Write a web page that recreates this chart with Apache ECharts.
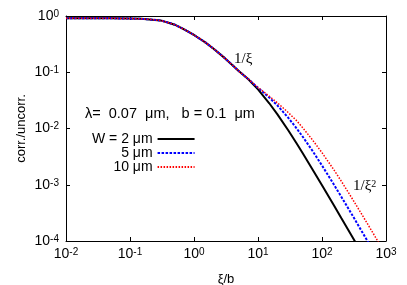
<!DOCTYPE html>
<html>
<head>
<meta charset="utf-8">
<script src="https://cdn.jsdelivr.net/npm/echarts@6/dist/echarts.min.js"></script>
<style>html,body{margin:0;padding:0;background:#fff}#c{width:407px;height:285px}</style>
</head>
<body>
<div id="c"></div>
<script>
const xi = [0.01,0.02,0.05,0.1,0.15,0.2,0.3,0.4,0.5,0.7,1,1.5,2,3,4,5,7,10,15,20,30,40,50,70,100,150,200,300,500,700,1000];
const common = [0.91,0.91,0.91,0.90,0.89,0.87,0.835,0.76,0.70,0.58,0.46,0.34,0.265,0.18,0.133,0.105,0.076];
const tailW2 = [0.0496,0.0281,0.0180,0.00911,0.00546,0.00362,0.00193,0.00098,0.00045,0.000257,0.000117,0.0000428,0.0000219,0.0000108];
const tailW5 = [0.0532,0.0355,0.0259,0.0153,0.0101,0.00715,0.0041,0.0022,0.00105,0.000613,0.000284,0.000105,0.000054,0.000027];
const tailW10 = [0.0536,0.0375,0.0287,0.0190,0.0138,0.0103,0.0064,0.00372,0.00191,0.00116,0.000555,0.000213,0.000112,0.0000556];
const seriesNames = ['W = 2 \u03bcm','5 \u03bcm','10 \u03bcm'];
const xTickExps = [-2,-1,0,1,2,3];
const yTickExps = [-4,-3,-2,-1,0];
const xTitle = '\u03be/b';
const yTitle = 'corr./uncorr.';
const paramText = '\u03bb=  0.07  \u03bcm,   b = 0.1  \u03bcm';

const W2 = common.concat(tailW2), W5 = common.concat(tailW5), W10 = common.concat(tailW10);
const pairs = arr => xi.map((x,i)=>[x,arr[i]]);
const FONT = 'Liberation Sans';
function expLabel(exps){
  return function(v){
    const e = Math.round(Math.log10(v));
    if (exps.indexOf(e) < 0) return '';
    return '{b|10}{s|' + e + '}';
  };
}
const rich = {
  b:{fontSize:14,fontFamily:FONT,color:'#000',lineHeight:14,verticalAlign:'bottom'},
  s:{fontSize:10,fontFamily:FONT,color:'#000',lineHeight:10,verticalAlign:'top',padding:[0,0,8,0]}
};
const tickStyle = {show:true,inside:true,length:4,lineStyle:{color:'#000',width:1}};
const lineAx = {show:true,lineStyle:{color:'#000',width:1}};
const xBase = {type:'log',logBase:10,min:0.01,max:1000,splitNumber:5,axisLine:lineAx,axisTick:tickStyle,minorTick:{show:false},splitLine:{show:false}};
const yBase = {type:'log',logBase:10,min:0.0001,max:1,splitNumber:4,axisLine:lineAx,axisTick:tickStyle,minorTick:{show:false},splitLine:{show:false}};
const lineCommon = {type:'line',showSymbol:false,symbol:'none'};

const chart = echarts.init(document.getElementById('c'),null,{renderer:'canvas'});
chart.setOption({
  animation:false,
  backgroundColor:'#fff',
  grid:{left:66,right:21,top:16,bottom:44,containLabel:false,outerBoundsMode:'none'},
  xAxis:[
    Object.assign({},xBase,{position:'bottom',axisLabel:{formatter:expLabel(xTickExps),rich:rich,margin:6},
      name:xTitle,nameLocation:'middle',nameGap:32,nameMoveOverlap:false,nameTextStyle:{fontFamily:FONT,fontSize:13,color:'#000'}}),
    Object.assign({},xBase,{position:'top',axisLabel:{show:false}})
  ],
  yAxis:[
    Object.assign({},yBase,{position:'left',axisLabel:{formatter:expLabel(yTickExps),rich:rich,margin:7},
      name:yTitle,nameLocation:'middle',nameGap:38,nameMoveOverlap:false,nameTextStyle:{fontFamily:FONT,fontSize:13,color:'#000'}}),
    Object.assign({},yBase,{position:'right',axisLabel:{show:false}})
  ],
  legend:{
    orient:'vertical',left:87,top:127,align:'right',itemWidth:37,itemHeight:10,itemGap:0,
    itemStyle:{opacity:0},
    textStyle:{fontFamily:FONT,fontSize:14,color:'#000',lineHeight:12},
    data:seriesNames
  },
  series:[
    Object.assign({},lineCommon,{name:seriesNames[0],data:pairs(W2),lineStyle:{color:'#000',width:2,type:'solid'},itemStyle:{color:'#000'},z:3}),
    Object.assign({},lineCommon,{name:seriesNames[1],data:pairs(W5),lineStyle:{color:'#0000ff',width:2,type:[2.5,1.5]},itemStyle:{color:'#0000ff'},z:4}),
    Object.assign({},lineCommon,{name:seriesNames[2],data:pairs(W10),lineStyle:{color:'#ff0000',width:1.5,type:[1.5,1.5]},itemStyle:{color:'#ff0000'},z:5})
  ],
  graphic:[
    {type:'text',left:85,top:106,style:{text:paramText,font:'14.5px "Liberation Sans"',fill:'#000'}},
    {type:'text',left:234,top:52,style:{text:'1/\u03be',font:'15px "Liberation Serif"',fill:'#000'}},
    {type:'text',left:353,top:179,style:{text:'{a|1/\u03be}{s|2}',rich:{a:{font:'15px "Liberation Serif"',fill:'#000',lineHeight:15,verticalAlign:'bottom'},s:{font:'10px "Liberation Serif"',fill:'#000',lineHeight:10,verticalAlign:'top',padding:[0,0,7,0]}}}}
  ]
});
</script>
</body>
</html>
